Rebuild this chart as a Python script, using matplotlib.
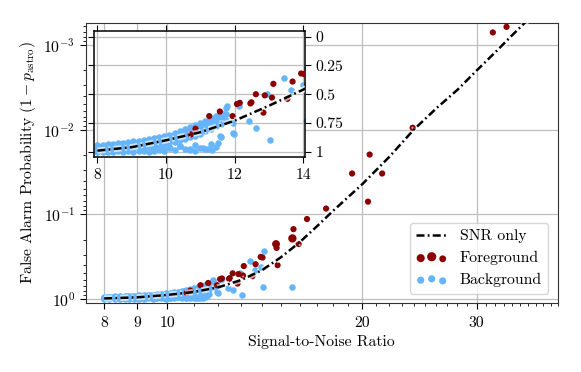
import numpy as np
import matplotlib
matplotlib.use("Agg")
import matplotlib.pyplot as plt
import matplotlib.patheffects as pe
from matplotlib.ticker import FixedLocator, NullFormatter

plt.rcParams['font.family'] = 'serif'
plt.rcParams['font.serif'] = ['cmr10', 'DejaVu Serif']
plt.rcParams['mathtext.fontset'] = 'cm'
plt.rcParams['axes.formatter.use_mathtext'] = True
plt.rcParams['font.size'] = 11.3

# SNR-only curve
snr_curve = [8.0, 9.0, 10.0, 11.0, 12.0, 13.0, 14.0, 15.0, 16.0, 17.0, 18.0,
             20.0, 22.0, 24.0, 26.0, 28.0, 30.0, 32.0, 34.0, 36.0, 38.0, 40.0]
fap_curve = [0.99, 0.96, 0.90, 0.83, 0.73, 0.60, 0.46, 0.32, 0.215, 0.14, 0.092,
             0.044, 0.021, 0.010, 0.0056, 0.0034, 0.002, 0.00123, 0.00077,
             0.0005, 0.00033, 0.00022]

# foreground events
fg_snr = [10.72, 10.86, 11.26, 11.57, 11.94, 12.07, 12.15, 12.46, 12.49, 12.62,
          12.84, 12.88, 13.09, 13.13, 13.54, 13.69, 13.94, 14.03, 14.72, 14.75,
          14.80, 15.60, 15.66, 15.95, 16.43, 17.58, 19.28, 20.40, 20.52, 21.45,
          23.90, 31.77, 33.35]
fg_fap = [0.85, 0.80, 0.69, 0.65, 0.69, 0.585, 0.575, 0.58, 0.57, 0.50,
          0.66, 0.51, 0.53, 0.41, 0.54, 0.39, 0.32, 0.325, 0.225, 0.25,
          0.40, 0.193, 0.150, 0.225, 0.114, 0.0857, 0.033, 0.071, 0.0197, 0.033,
          0.0095, 0.00071, 0.00061]
fg_size = [20, 20, 20, 20, 20, 20, 20, 20, 20, 20,
           20, 20, 20, 20, 20, 20, 20, 20, 32, 20,
           20, 36, 20, 20, 20, 20, 20, 20, 20, 20,
           20, 20, 20]

# background events: dense band at low SNR plus scattered points
bg_snr = [8.00, 8.00, 8.00, 8.00, 8.15, 8.15, 8.15, 8.15, 8.30, 8.30, 8.30, 8.30,
          8.45, 8.45, 8.45, 8.45, 8.60, 8.60, 8.60, 8.60, 8.75, 8.75, 8.75, 8.75,
          8.90, 8.90, 8.90, 8.90, 9.05, 9.05, 9.05, 9.05, 9.20, 9.20, 9.20, 9.20,
          9.35, 9.35, 9.35, 9.35, 9.50, 9.50, 9.50, 9.50, 9.65, 9.65, 9.65, 9.65,
          9.80, 9.80, 9.80, 9.80, 9.95, 9.95, 9.95, 9.95, 10.10, 10.10, 10.10, 10.10,
          10.25, 10.25, 10.25, 10.25, 10.40, 10.40, 10.40, 10.40,
          10.55, 10.55, 10.55, 10.55, 10.70, 10.70, 10.70, 10.70,
          10.85, 10.85, 10.85, 10.85, 11.00, 11.00, 11.00, 11.00,
          11.15, 11.15, 11.15, 11.15, 11.30, 11.30, 11.30, 11.30,
          11.45, 11.45, 11.45, 11.45, 11.60, 11.60, 11.60, 11.60,
          11.75, 11.75, 11.75,
          8.08, 8.22, 8.38, 8.52, 8.68, 8.82, 8.98, 9.12, 9.28, 9.42, 9.58, 9.72,
          9.88, 10.02, 10.18, 10.32, 10.48, 10.62, 10.78, 10.92, 11.08, 11.22,
          11.38, 11.52, 11.68,
          10.11, 10.40, 10.69, 11.07, 11.22, 11.51, 11.57, 11.95, 11.95, 11.99,
          11.79, 12.13, 12.42, 12.62, 12.94, 13.04, 13.43, 13.64, 13.98, 14.08,
          14.11, 15.58, 9.62, 9.90, 10.85, 11.35]
bg_fap = [0.94, 0.97, 0.99, 1.00, 0.94, 0.96, 0.99, 1.00, 0.935, 0.96, 0.985, 1.00,
          0.93, 0.955, 0.98, 1.00, 0.925, 0.95, 0.98, 0.995, 0.92, 0.95, 0.975, 1.00,
          0.915, 0.945, 0.97, 0.995, 0.91, 0.94, 0.97, 1.00, 0.905, 0.935, 0.965, 0.995,
          0.90, 0.93, 0.96, 0.99, 0.89, 0.925, 0.955, 1.00, 0.88, 0.915, 0.95, 0.99,
          0.87, 0.905, 0.94, 0.985, 0.86, 0.895, 0.935, 0.995, 0.85, 0.885, 0.925, 0.97,
          0.835, 0.875, 0.915, 0.985, 0.82, 0.86, 0.90, 0.95,
          0.80, 0.845, 0.89, 0.975, 0.785, 0.83, 0.875, 0.985,
          0.77, 0.81, 0.86, 0.94, 0.75, 0.79, 0.845, 0.965,
          0.73, 0.775, 0.82, 0.98, 0.71, 0.75, 0.80, 0.93,
          0.69, 0.73, 0.78, 0.955, 0.66, 0.70, 0.76, 0.87,
          0.62, 0.67, 0.72,
          0.955, 0.95, 0.945, 0.94, 0.935, 0.93, 0.925, 0.92, 0.915, 0.91, 0.90, 0.89,
          0.88, 0.87, 0.86, 0.845, 0.83, 0.815, 0.80, 0.78, 0.76, 0.74,
          0.72, 0.70, 0.67,
          0.97, 0.95, 0.98, 0.965, 0.98, 0.92, 0.867, 0.835, 0.75, 0.846,
          0.606, 0.606, 0.736, 0.794, 0.498, 0.896, 0.36, 0.461, 0.417, 0.73,
          0.275, 0.73, 0.985, 0.975, 0.99, 0.985]

red = '#8b0000'
blue = '#66b5fa'
halo = [pe.Stroke(linewidth=4.5, foreground='white', alpha=0.65), pe.Normal()]

fig = plt.figure(figsize=(5.81, 3.72), dpi=100)
ax = fig.add_axes([0.148, 0.1855, 0.812, 0.7525])

ax.scatter(bg_snr, bg_fap, s=22, color=blue, lw=0, zorder=2, label='Background')
ax.scatter(fg_snr, fg_fap, s=fg_size, color=red, lw=0, zorder=3, label='Foreground')
ax.plot(snr_curve, fap_curve, color='k', lw=1.8, ls='-.', dashes=(3.2, 1.3, 0.7, 1.3),
        path_effects=halo, zorder=4, label='SNR only')

ax.set_xscale('log')
ax.set_yscale('log')
ax.set_xlim(7.5, 40)
ax.set_ylim(1.12, 5.5e-4)
ax.set_xticks([8, 9, 10, 20, 30])
ax.set_xticklabels(['8', '9', '10', '20', '30'])
ax.xaxis.set_minor_locator(FixedLocator([v for v in range(11, 41) if v not in (20, 30)]))
ax.xaxis.set_minor_formatter(NullFormatter())
ax.yaxis.set_minor_formatter(NullFormatter())
ax.tick_params(which='major', direction='out', length=4.3, width=0.8)
ax.tick_params(which='minor', direction='out', length=2.5, width=0.6)
ax.tick_params(axis='x', which='major', pad=5)
ax.grid(which='major', color='#bdbdbd', lw=0.9)
ax.set_axisbelow(True)
for s in ax.spines.values():
    s.set_color('#333333')
ax.set_xlabel('Signal-to-Noise Ratio')
ax.set_ylabel(r'False Alarm Probability $(1 - p_{\rm astro})$')

h, l = ax.get_legend_handles_labels()
order = [2, 1, 0]
ax.legend([h[i] for i in order], [l[i] for i in order], loc='lower right',
          scatterpoints=3, framealpha=0.8, edgecolor='#cccccc',
          borderaxespad=0.6, markerscale=1.1)

# inset
axin = fig.add_axes([0.1618, 0.578, 0.363, 0.339])
axin.scatter(bg_snr, bg_fap, s=22, color=blue, lw=0, zorder=2)
axin.scatter(fg_snr, fg_fap, s=fg_size, color=red, lw=0, zorder=3)
axin.plot(snr_curve, fap_curve, color='k', lw=1.8, ls='-.', dashes=(3.2, 1.3, 0.7, 1.3),
          path_effects=halo, zorder=4)
axin.set_xlim(7.9, 14.05)
axin.set_ylim(1.045, -0.05)
axin.set_xticks([8, 10, 12, 14])
axin.set_yticks([0, 0.25, 0.5, 0.75, 1])
axin.set_yticklabels(['0', '0.25', '0.5', '0.75', '1'])
axin.tick_params(direction='out', length=4, width=0.8, top=True, right=True,
                 left=True, labelleft=False, labelright=True)
axin.grid(color='#bdbdbd', lw=0.9)
axin.set_axisbelow(True)
for s in axin.spines.values():
    s.set_linewidth(1.1)

fig.savefig('out.png', dpi=100)
